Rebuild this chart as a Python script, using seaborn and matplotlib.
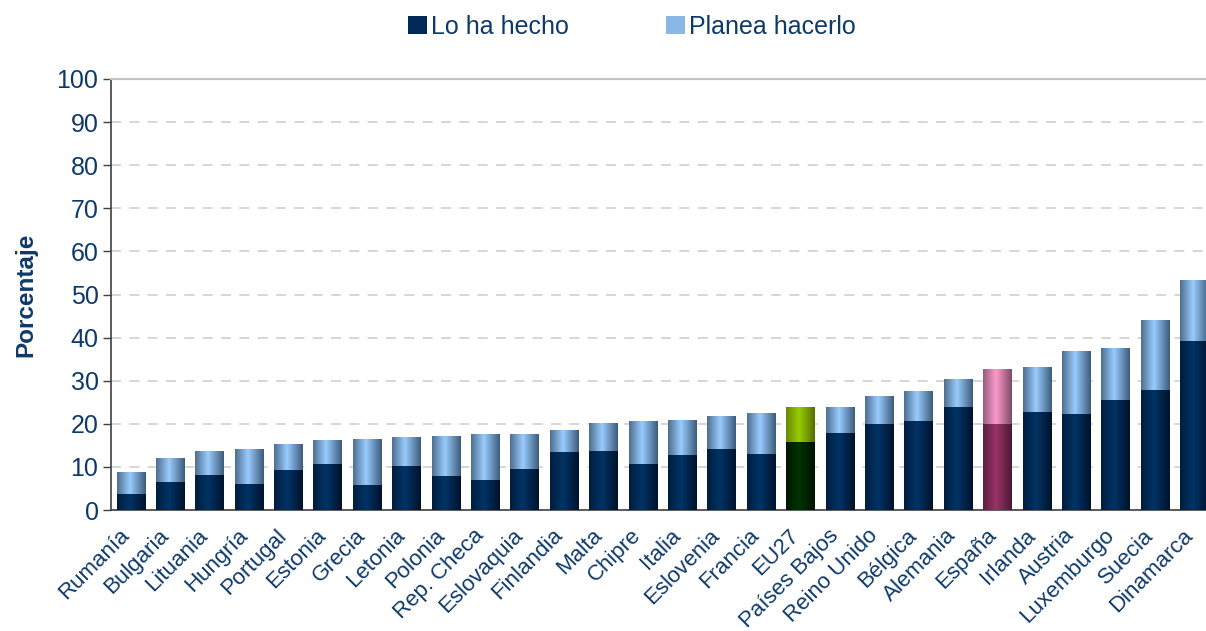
import numpy as np
import matplotlib
matplotlib.use("Agg")
import matplotlib.pyplot as plt
import matplotlib.transforms as mtransforms
from matplotlib.colors import LinearSegmentedColormap
from matplotlib.patches import Patch
import seaborn as sns

# values (percent)
countries = ["Rumanía", "Bulgaria", "Lituania", "Hungría", "Portugal", "Estonia",
             "Grecia", "Letonia", "Polonia", "Rep. Checa", "Eslovaquia", "Finlandia",
             "Malta", "Chipre", "Italia", "Eslovenia", "Francia", "EU27",
             "Países Bajos", "Reino Unido", "Bélgica", "Alemania", "España",
             "Irlanda", "Austria", "Luxemburgo", "Suecia", "Dinamarca"]
done = [3.7, 6.5, 8.1, 6.0, 9.3, 10.7, 5.8, 10.2, 7.9, 7.0, 9.5, 13.5,
        13.7, 10.7, 12.8, 14.2, 13.0, 15.8, 17.9, 20.0, 20.7, 23.9, 20.0,
        22.8, 22.3, 25.5, 27.9, 39.2]
planned = [5.1, 5.6, 5.6, 8.2, 6.0, 5.6, 10.7, 6.8, 9.3, 10.6, 8.1, 5.1,
           6.5, 10.0, 8.1, 7.6, 9.5, 8.1, 6.0, 6.5, 6.9, 6.5, 12.7,
           10.4, 14.6, 12.1, 16.2, 14.2]
yticks = list(range(0, 101, 10))

TEXT = "#0e3a6a"

# left edge / centre / right edge of the bar shading
SHADES = {
    "done": ["#001d3d", "#003366", "#00132a"],
    "plan": ["#4f6f8f", "#99ccff", "#3d5c7c"],
    "done_eu": ["#001800", "#003300", "#001200"],
    "plan_eu": ["#688800", "#99cc00", "#566f00"],
    "done_es": ["#5c1e40", "#993366", "#4c1935"],
    "plan_es": ["#94607c", "#ff99cc", "#7c4c66"],
}


def shade_cmap(cols):
    return LinearSegmentedColormap.from_list("g", [(0, cols[0]), (0.45, cols[1]), (1, cols[2])])


sns.set_style("white")
plt.rcParams["font.family"] = ["Liberation Sans", "DejaVu Sans"]

fig = plt.figure(figsize=(12.06, 6.31), dpi=100)
ax = fig.add_axes([111 / 1206, 1 - 510 / 631, 1103 / 1206, 431 / 631])

totals = [d + p for d, p in zip(done, planned)]
sns.barplot(x=countries, y=totals, color=SHADES["plan"][1], width=0.72,
            ax=ax, zorder=2, linewidth=0)
sns.barplot(x=countries, y=done, color=SHADES["done"][1], width=0.72,
            ax=ax, zorder=3, linewidth=0)

n = len(countries)
grad = np.linspace(0, 1, 64).reshape(1, -1)
for i, patch in enumerate(ax.patches):
    part = "plan" if i < n else "done"
    name = countries[i % n]
    key = part
    if name == "EU27":
        key = part + "_eu"
    elif name == "España":
        key = part + "_es"
    x, y = patch.get_x(), patch.get_y()
    w, h = patch.get_width(), patch.get_height()
    patch.set_facecolor(SHADES[key][1])
    im = ax.imshow(grad, extent=[x, x + w, y, y + h], aspect="auto",
                   cmap=shade_cmap(SHADES[key]), zorder=patch.get_zorder(),
                   interpolation="bilinear")
    im.set_clip_path(patch)

ax.set_xlim(-0.5, n - 0.5)
ax.set_ylim(0, 100)
ax.set_yticks(yticks)
ax.yaxis.grid(True, color="#cfcfcf", linestyle=(0, (6, 5)), linewidth=1.2, zorder=0)
ax.set_axisbelow(True)

# excel-style category ticks between bars
ax.set_xticks(np.arange(-0.5, n, 1.0), minor=True)
ax.tick_params(axis="x", which="minor", length=7, width=1, color="#707070", direction="out")
ax.tick_params(axis="x", which="major", length=0, pad=0)
ax.tick_params(axis="y", length=6, width=1, color="#404040", direction="out",
               labelsize=18, labelcolor=TEXT, pad=3, left=True)
ax.set_xticks(range(n))
ax.set_xticklabels(countries, rotation=45, ha="right", va="top", rotation_mode="anchor",
                   fontsize=16, color=TEXT)
shift = mtransforms.ScaledTranslation(-0.12, -0.15, fig.dpi_scale_trans)
for lab in ax.get_xticklabels():
    lab.set_transform(lab.get_transform() + shift)

for side in ["left", "bottom"]:
    ax.spines[side].set_color("#404040")
    ax.spines[side].set_linewidth(1.2)
ax.spines["top"].set_color("#c4c4c4")
ax.spines["top"].set_linewidth(1.6)
ax.spines["right"].set_visible(False)

ax.set_xlabel("")
ax.set_ylabel("Porcentaje", fontsize=17.5, fontweight="bold", color=TEXT, labelpad=14)

handles = [Patch(facecolor="#002a55", edgecolor="none", label="Lo ha hecho"),
           Patch(facecolor="#8ab8e6", edgecolor="none", label="Planea hacerlo")]
fig.legend(handles=handles, loc="center", bbox_to_anchor=(0.524, 0.958), ncol=2,
           frameon=False, fontsize=18, labelcolor=TEXT, handlelength=0.75,
           handleheight=0.75, handletextpad=0.15, columnspacing=3.9)

fig.savefig("out.png", dpi=100)
